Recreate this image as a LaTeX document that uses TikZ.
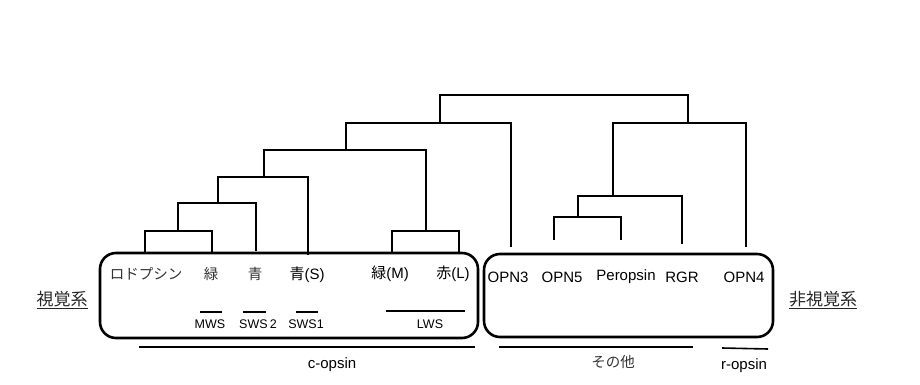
\documentclass[tikz,border=0pt]{standalone}
\usepackage{fontspec}
\setmainfont{Liberation Sans}
\newfontfamily\jp{Noto Sans CJK JP}
\usetikzlibrary{positioning}

\begin{document}
\begin{tikzpicture}[
  x=1pt,y=-1pt,
  br/.style={line width=1.7pt},
  grp/.style={line width=2.6pt,rounded corners=16pt},
  bar/.style={line width=1.6pt},
  lab/.style={font=\fontsize{15}{17}\selectfont,inner sep=1pt},
  jlab/.style={font=\jp\fontsize{14.5}{17}\selectfont,black!80,inner sep=1pt},
  sub/.style={font=\fontsize{12.5}{14}\selectfont,inner sep=1pt},
  side/.style={font=\jp\fontsize{17}{20}\selectfont,black!85,inner sep=1pt}
]
\useasboundingbox (0,0) rectangle (920,385);
%% leaf tips
\coordinate (rho) at (145,252);
\coordinate (grn) at (212,252);
\coordinate (blu) at (256,251);
\coordinate (bls) at (308,255);
\coordinate (gm)  at (392,252);
\coordinate (rl)  at (459,252);
\coordinate (op3) at (511,247);
\coordinate (op5) at (554,240);
\coordinate (per) at (621,240);
\coordinate (rgr) at (682,244);
\coordinate (op4) at (746,247);
%% inner nodes (where each joins its parent)
\coordinate (n1)   at (178,231);
\coordinate (n2)   at (218,203);
\coordinate (n3)   at (264,177);
\coordinate (n4)   at (346,150);
\coordinate (lws)  at (426,231);
\coordinate (n6)   at (440,123);
\coordinate (root) at (564,95);
\coordinate (m1)   at (688,123);
\coordinate (m2)   at (613,196);
\coordinate (m3)   at (578,217);
%% tree
\draw[br] (rho) |- (n1) -| (grn);
\draw[br] (n1) |- (n2) -| (blu);
\draw[br] (n2) |- (n3) -| (bls);
\draw[br] (gm) |- (lws) -| (rl);
\draw[br] (n3) |- (n4) -| (lws);
\draw[br] (n4) |- (n6) -| (op3);
\draw[br] (op5) |- (m3) -| (per);
\draw[br] (m3) |- (m2) -| (rgr);
\draw[br] (m2) |- (m1) -| (op4);
\draw[br] (n6) |- (root) -| (m1);
%% groups
\draw[grp] (100,253) rectangle (478,338);
\draw[grp] (484,254) rectangle (773,337);
%% visual opsins
\node[jlab] (t-rho) at (146,274) {ロドプシン};
\node[jlab] (t-grn) at (211,274) {緑};
\node[jlab] (t-blu) at (255,274) {青};
\node[lab]  (t-bls) at (307,275) {{\jp 青}(S)};
\node[lab]  (t-gm)  at (390,274) {{\jp 緑}(M)};
\node[lab]  (t-rl)  at (453,274) {{\jp 赤}(L)};
%% non-visual opsins
\node[lab] (t-op3) at (508,277) {OPN3};
\node[lab] (t-op5) at (562,277) {OPN5};
\node[lab] (t-per) at (626,277) {Peropsin};
\node[lab] (t-rgr) at (682,277) {RGR};
\node[lab] (t-op4) at (744,277) {OPN4};
%% subtypes
\coordinate (mw1) at (200,312); \coordinate (mw2) at (222,312);
\coordinate (s21) at (243,312); \coordinate (s22) at (266,312);
\coordinate (s11) at (296,312); \coordinate (s12) at (318,312);
\coordinate (lw1) at (386,311); \coordinate (lw2) at (465,311);
\draw[bar] (mw1) -- (mw2);
\draw[bar] (s21) -- (s22);
\draw[bar] (s11) -- (s12);
\draw[bar] (lw1) -- (lw2);
\node[sub] (t-mws) at (210,324) {MWS};
\node[sub] (t-sws2) at (258,324) {SWS\,2};
\node[sub] (t-sws1) at (306,324) {SWS1};
\node[sub] (t-lws) at (430,324) {LWS};
%% families
\coordinate (c1) at (139,347); \coordinate (c2) at (475,347);
\coordinate (o1) at (499,347); \coordinate (o2) at (693,347);
\coordinate (r1) at (722,348); \coordinate (r2) at (768,349);
\draw[bar] (c1) -- (c2);
\draw[bar] (o1) -- (o2);
\draw[bar] (r1) -- (r2);
\node[lab] (t-cop) at (332,365) {c-opsin};
\node[jlab] (t-oth) at (613,362) {その他};
\node[lab] (t-rop) at (744,366) {r-opsin};
%% side labels
\node[side] (vis)  at (62,300)  {\underline{視覚系}};
\node[side] (nvis) at (823,300) {\underline{非視覚系}};
\end{tikzpicture}
\end{document}
